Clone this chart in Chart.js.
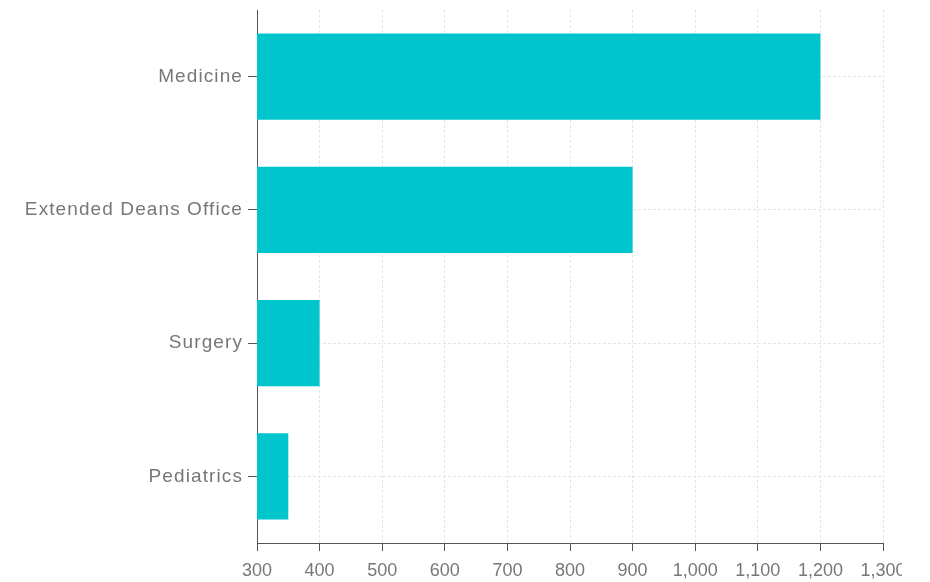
<!DOCTYPE html>
<html lang="en">

<head>
    <meta charset="UTF-8">
    <title>Department Totals</title>
    <script src="https://cdn.jsdelivr.net/npm/chart.js"></script>
    <style>
        body { margin: 0; background: #fff; }
        #wrap { width: 902px; height: 582px; overflow: hidden; }
    </style>
</head>

<body>
    <div id="wrap">
        <canvas id="deptChart" width="930" height="582"></canvas>
    </div>

    <script>
        // values
        const departments = ['Medicine', 'Extended Deans Office', 'Surgery', 'Pediatrics'];
        const totals = [1200, 900, 400, 350];
        const xMin = 300;
        const xMax = 1300;
        const xStep = 100;

        const tickFont = { family: 'Liberation Sans, Arial, sans-serif', size: 18 };
        const catFont = { family: 'Liberation Sans, Arial, sans-serif', size: 19 };
        const textColor = '#777';
        const axisColor = '#555';
        const gridColor = '#e6e6e6';

        // the category labels in the reference are set a bit wider than plain Arial
        function spreadLabels(scale) {
            if (scale._spread) return;
            scale._spread = true;
            const orig = scale.drawLabels;
            scale.drawLabels = function (area) {
                this.ctx.save();
                this.ctx.letterSpacing = '1.1px';
                orig.call(this, area);
                this.ctx.restore();
            };
        }

        const ctx = document.getElementById('deptChart').getContext('2d');
        const chart = new Chart(ctx, {
            type: 'bar',
            data: {
                labels: departments,
                datasets: [{
                    data: totals,
                    backgroundColor: '#00c5cd',
                    borderWidth: 0,
                    categoryPercentage: 0.8,
                    barPercentage: 0.81
                }]
            },
            options: {
                indexAxis: 'y',
                responsive: false,
                animation: false,
                layout: { padding: { top: 10, right: 47, left: 0, bottom: 0 } },
                plugins: {
                    legend: { display: false },
                    tooltip: { enabled: false }
                },
                scales: {
                    x: {
                        min: xMin,
                        max: xMax,
                        ticks: {
                            stepSize: xStep,
                            color: textColor,
                            font: tickFont,
                            padding: 9,
                            maxRotation: 0
                        },
                        grid: {
                            color: gridColor,
                            tickColor: axisColor,
                            tickLength: 8
                        },
                        border: { color: axisColor, dash: [3, 2] },
                        afterFit: (scale) => { scale.height = 39; }
                    },
                    y: {
                        ticks: {
                            color: textColor,
                            font: catFont,
                            padding: 5
                        },
                        grid: {
                            offset: false,
                            color: gridColor,
                            tickColor: axisColor,
                            tickLength: 9
                        },
                        border: { color: axisColor, dash: [3, 2] },
                        afterFit: (scale) => {
                            scale.width = 257;
                            scale.paddingTop = 0;
                            scale.paddingBottom = 0;
                            spreadLabels(scale);
                        }
                    }
                }
            }
        });
        chart.draw();
    </script>
</body>

</html>
